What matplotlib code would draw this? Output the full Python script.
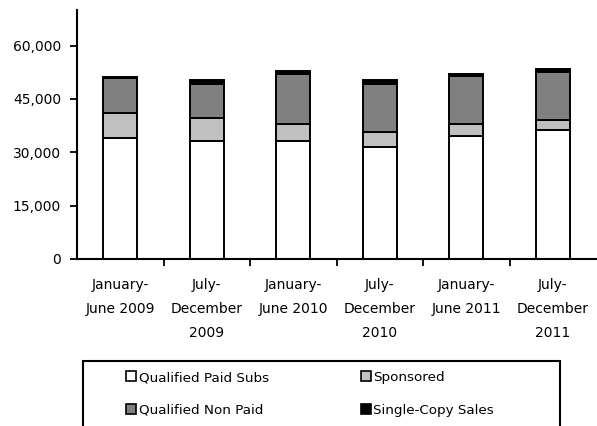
import matplotlib
matplotlib.use("Agg")
import matplotlib.pyplot as plt
from matplotlib.patches import Rectangle, Patch
from matplotlib.ticker import FuncFormatter, FixedLocator
import numpy as np

categories = ["January-\nJune 2009", "July-\nDecember\n2009", "January-\nJune 2010",
              "July-\nDecember\n2010", "January-\nJune 2011", "July-\nDecember\n2011"]
series_names = ["Qualified Paid Subs", "Sponsored", "Qualified Non Paid", "Single-Copy Sales"]
paid = [33900, 33300, 33300, 31500, 34500, 36300]
sponsored = [7100, 6400, 4700, 4200, 3500, 2900]
non_paid = [9900, 9400, 14100, 13600, 13500, 13500]
single_copy = [200, 1300, 700, 1100, 600, 700]
colors = ["#FFFFFF", "#C0C0C0", "#808080", "#000000"]

plt.rcParams['font.family'] = ['DejaVu Sans']
W, H = 597, 426
fig = plt.figure(figsize=(W / 100, H / 100), dpi=100)
ax = fig.add_axes([77 / W, 1 - 259 / H, (596 - 77) / W, (259 - 10) / H])

x = np.arange(len(categories))
bottom = np.zeros(len(categories))
handles = []
for name, vals, c in zip(series_names, [paid, sponsored, non_paid, single_copy], colors):
    ax.bar(x, vals, width=0.39, bottom=bottom, color=c, edgecolor="black", linewidth=1.4, label=name)
    bottom += np.array(vals)
    handles.append(Patch(facecolor=c, edgecolor="black", linewidth=1.2, label=name))

ax.set_xlim(-0.5, len(categories) - 0.5)
ax.set_ylim(0, 70000)
ax.set_yticks([0, 15000, 30000, 45000, 60000])
ax.yaxis.set_major_formatter(FuncFormatter(lambda v, p: f"{int(v):,}"))
ax.xaxis.set_major_locator(FixedLocator(x[:-1] + 0.5))
ax.set_xticklabels([])
ax.xaxis.set_minor_locator(FixedLocator(x))
ax.set_xticklabels(categories, minor=True, linespacing=1.88)
ax.tick_params(axis='x', which='minor', length=0, pad=14, labelsize=10)
ax.tick_params(axis='x', which='major', length=5, width=1.3, direction='out')
ax.tick_params(axis='y', length=5, width=1.3, direction='out', labelsize=10, pad=6.5)
for s in ["top", "right"]:
    ax.spines[s].set_visible(False)
for s in ["left", "bottom"]:
    ax.spines[s].set_linewidth(1.5)

# legend frame
fig.patches.append(Rectangle((83 / W, 1 - 445 / H), (560 - 83) / W, (445 - 361) / H,
                             transform=fig.transFigure, fill=False, edgecolor="black",
                             linewidth=1.5))
order = [0, 2, 1, 3]
fig.legend([handles[i] for i in order], [series_names[i] for i in order], ncol=2,
           loc='upper left', bbox_to_anchor=(122 / W, 1 - 367 / H), frameon=False,
           fontsize=9.7, handlelength=0.75, handleheight=0.75, handletextpad=0.2,
           labelspacing=1.45, columnspacing=6.8, borderaxespad=0, borderpad=0.3)

fig.savefig("out.png", dpi=100)
